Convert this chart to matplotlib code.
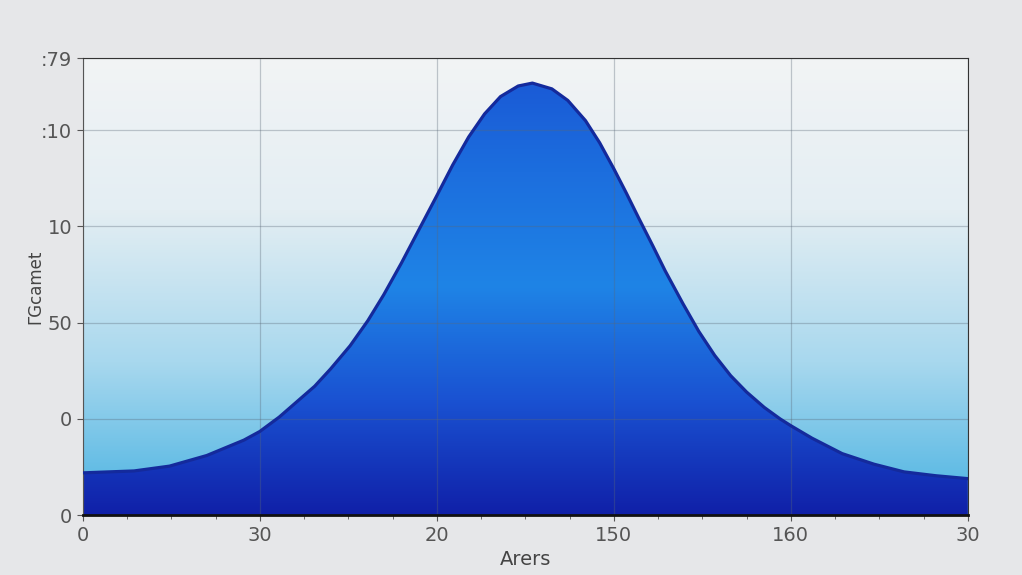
import matplotlib
matplotlib.use("Agg")
import matplotlib.pyplot as plt
import numpy as np
from matplotlib.colors import LinearSegmentedColormap
from matplotlib.ticker import AutoMinorLocator

# curve (x in tick units 0..5)
xs = [0.0, 0.29, 0.49, 0.70, 0.91, 1.0, 1.11, 1.21, 1.31, 1.40, 1.51, 1.61, 1.70,
      1.80, 1.90, 2.0, 2.09, 2.18, 2.27, 2.36, 2.46, 2.54, 2.65, 2.74, 2.84, 2.92,
      3.0, 3.07, 3.14, 3.22, 3.29, 3.39, 3.48, 3.57, 3.66, 3.75, 3.85, 3.94, 4.0,
      4.12, 4.29, 4.47, 4.64, 4.82, 5.0]
ys = [0.44, 0.46, 0.51, 0.62, 0.78, 0.87, 1.02, 1.18, 1.34, 1.52, 1.76, 2.02, 2.29,
      2.62, 2.97, 3.32, 3.64, 3.93, 4.17, 4.35, 4.46, 4.49, 4.43, 4.31, 4.10, 3.87,
      3.60, 3.35, 3.09, 2.80, 2.54, 2.20, 1.91, 1.66, 1.45, 1.28, 1.12, 1.0, 0.93,
      0.80, 0.64, 0.53, 0.45, 0.41, 0.38]

xtick_pos = [0, 1, 2, 3, 4, 5]
xtick_labels = ["0", "30", "20", "150", "160", "30"]
ytick_pos = [0, 1, 2, 3, 4, 4.75]
ytick_labels = ["0", "0", "50", "10", ":10", ":79"]

fig = plt.figure(figsize=(10.22, 5.75), dpi=100, facecolor="#e6e7e9")
ax = fig.add_axes([0.081, 0.104, 0.866, 0.795])

xmax, ymax = 5, 4.75

# background gradient: white at top, cyan at bottom
bg = LinearSegmentedColormap.from_list("bg", ["#48b2e2", "#a8d8ee", "#e4eef3", "#f2f4f5"])
grad = np.linspace(0, 1, 256).reshape(-1, 1)
ax.imshow(grad, extent=[0, xmax, 0, ymax], origin="lower", aspect="auto", cmap=bg, zorder=0)

# gradient under the curve
fc = LinearSegmentedColormap.from_list("fc", ["#1020a8", "#1a52d2", "#1f84e6", "#1c6ede", "#1a55d4"])
im = ax.imshow(grad, extent=[0, xmax, 0, ymax], origin="lower", aspect="auto", cmap=fc, zorder=1)
poly = ax.fill_between(xs, ys, 0, facecolor="none", edgecolor="none", zorder=1)
im.set_clip_path(poly.get_paths()[0], transform=ax.transData)

ax.plot(xs, ys, color="#142a9c", lw=2.3, zorder=3, solid_joinstyle="round")

ax.set_xlim(0, xmax)
ax.set_ylim(0, ymax)
ax.set_xticks(xtick_pos)
ax.set_xticklabels(xtick_labels)
ax.set_yticks(ytick_pos)
ax.set_yticklabels(ytick_labels)
ax.xaxis.set_minor_locator(AutoMinorLocator(4))
ax.tick_params(axis="both", labelsize=14, colors="#555555", length=4)
ax.tick_params(axis="x", which="minor", length=3, color="#555555")
ax.grid(True, color="#5a6878", alpha=0.35, lw=0.9, zorder=2)

for s in ["top", "right"]:
    ax.spines[s].set_color("#333333")
ax.spines["left"].set_color("#555555")
ax.spines["bottom"].set_color("#111111")
ax.spines["bottom"].set_linewidth(2)

ax.set_xlabel("Arers", fontsize=14, color="#444444", labelpad=4)
ax.set_ylabel("ΓGcamet", fontsize=12, color="#444444", labelpad=-2)

plt.savefig("out.png", dpi=100, facecolor=fig.get_facecolor())
